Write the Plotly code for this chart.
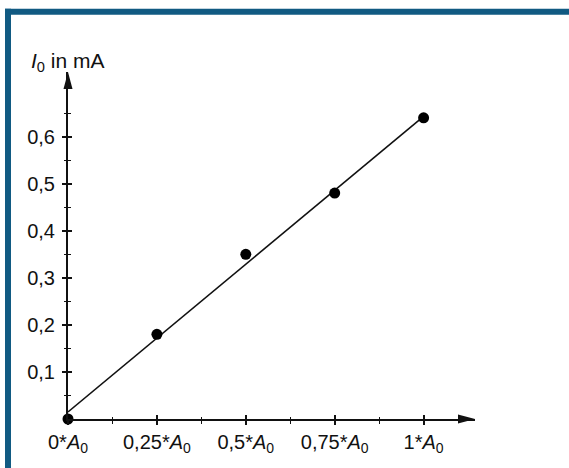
import plotly.graph_objects as go

# ---- data ----
x_vals = [0, 0.25, 0.5, 0.75, 1.0]
current_mA = [0.0, 0.18, 0.35, 0.48, 0.64]
fit_x = [0.0, 1.0]
fit_y = [0.015, 0.643]

x_tickvals = [0, 0.25, 0.5, 0.75, 1.0]
x_ticktext = ["0*<i>A</i><sub>0</sub>", "0,25*<i>A</i><sub>0</sub>", "0,5*<i>A</i><sub>0</sub>",
              "0,75*<i>A</i><sub>0</sub>", "1*<i>A</i><sub>0</sub>"]
x_minor = [0.125, 0.375, 0.625, 0.875]
y_tickvals = [0.1, 0.2, 0.3, 0.4, 0.5, 0.6]
y_ticktext = ["0,1", "0,2", "0,3", "0,4", "0,5", "0,6"]
y_minor = [0.05, 0.15, 0.25, 0.35, 0.45, 0.55, 0.65]

# ---- layout geometry ----
W, H = 569, 468
L, R, T, B = 68, 94, 72, 45
PX_PER_X = 355.6
PX_PER_Y = 476.0
x_max = (W - L - R) / PX_PER_X
y_max = (H - T - B) / PX_PER_Y
pw, ph = W - L - R, H - T - B

def px_x(p):
    return (p - L) / pw

def px_y(p):
    return 1 - (p - T) / ph

FONT = "Liberation Sans, Arial, Helvetica, sans-serif"
INK = "#111111"
BLUE = "#115a82"

fig = go.Figure()
fig.add_trace(go.Scatter(x=fit_x, y=fit_y, mode="lines",
                         line=dict(color=INK, width=1.6), hoverinfo="skip"))
fig.add_trace(go.Scatter(x=x_vals, y=current_mA, mode="markers",
                         marker=dict(color="#000000", size=11), cliponaxis=False))
# invisible trace on overlay axes (for crossing ticks)
fig.add_trace(go.Scatter(x=[0], y=[0], xaxis="x2", yaxis="y2", mode="markers",
                         marker=dict(opacity=0), hoverinfo="skip"))

common = dict(showgrid=False, zeroline=False, ticklen=4, tickwidth=1.5, tickcolor=INK)

fig.update_layout(
    width=W, height=H,
    margin=dict(l=L, r=R, t=T, b=B, pad=0),
    paper_bgcolor="white", plot_bgcolor="white",
    showlegend=False,
    font=dict(family=FONT, color=INK, size=20),
    xaxis=dict(range=[0, x_max], showline=True, linewidth=2, linecolor=INK,
               ticks="outside", tickvals=x_tickvals, ticktext=x_ticktext,
               minor=dict(tickvals=x_minor, ticks="outside", ticklen=2.5, tickwidth=1.3, tickcolor=INK),
               tickfont=dict(size=20, family=FONT, color=INK), **common),
    yaxis=dict(range=[0, y_max], showline=True, linewidth=2, linecolor=INK,
               ticks="outside", tickvals=y_tickvals, ticktext=y_ticktext,
               minor=dict(tickvals=y_minor, ticks="outside", ticklen=2.5, tickwidth=1.3, tickcolor=INK),
               tickfont=dict(size=20, family=FONT, color=INK), ticklabelstandoff=3, **common),
    xaxis2=dict(range=[0, x_max], overlaying="x", anchor="y2", side="bottom",
                ticks="inside", tickvals=x_tickvals, showticklabels=False, showline=False,
                minor=dict(tickvals=x_minor, ticks="inside", ticklen=2.5, tickwidth=1.3, tickcolor=INK),
                **common),
    yaxis2=dict(range=[0, y_max], overlaying="y", anchor="x2", side="left",
                ticks="inside", tickvals=y_tickvals, showticklabels=False, showline=False,
                minor=dict(tickvals=y_minor, ticks="inside", ticklen=2.5, tickwidth=1.3, tickcolor=INK),
                **common),
)

# axis arrowheads (pixel-sized paths anchored at the axis ends, paper refs so not clipped)
fig.add_shape(type="path", xref="paper", yref="paper", xsizemode="pixel", ysizemode="pixel",
              xanchor=1, yanchor=0, path="M 0 0 L -17 4.5 L -17 -4.5 Z",
              fillcolor=INK, line=dict(width=0), layer="above")
fig.add_shape(type="path", xref="paper", yref="paper", xsizemode="pixel", ysizemode="pixel",
              xanchor=0, yanchor=1, path="M 0 0 L -4.5 -17 L 4.5 -17 Z",
              fillcolor=INK, line=dict(width=0), layer="above")

# blue frame (top and left bands)
fig.add_shape(type="rect", xref="paper", yref="paper",
              x0=px_x(5), x1=px_x(W + 5), y0=px_y(14), y1=px_y(8),
              fillcolor=BLUE, line=dict(width=0), layer="above")
fig.add_shape(type="rect", xref="paper", yref="paper",
              x0=px_x(5), x1=px_x(11), y0=px_y(H + 5), y1=px_y(8),
              fillcolor=BLUE, line=dict(width=0), layer="above")

fig.add_annotation(text="<i>I</i><sub>0</sub> in mA", x=0, xref="x", y=1, yref="paper",
                   xanchor="center", yanchor="bottom", yshift=-5, showarrow=False,
                   font=dict(size=21, family=FONT, color=INK))

fig.write_html("out.html", config={"displayModeBar": False},
               post_script="document.body.style.margin='0';")
